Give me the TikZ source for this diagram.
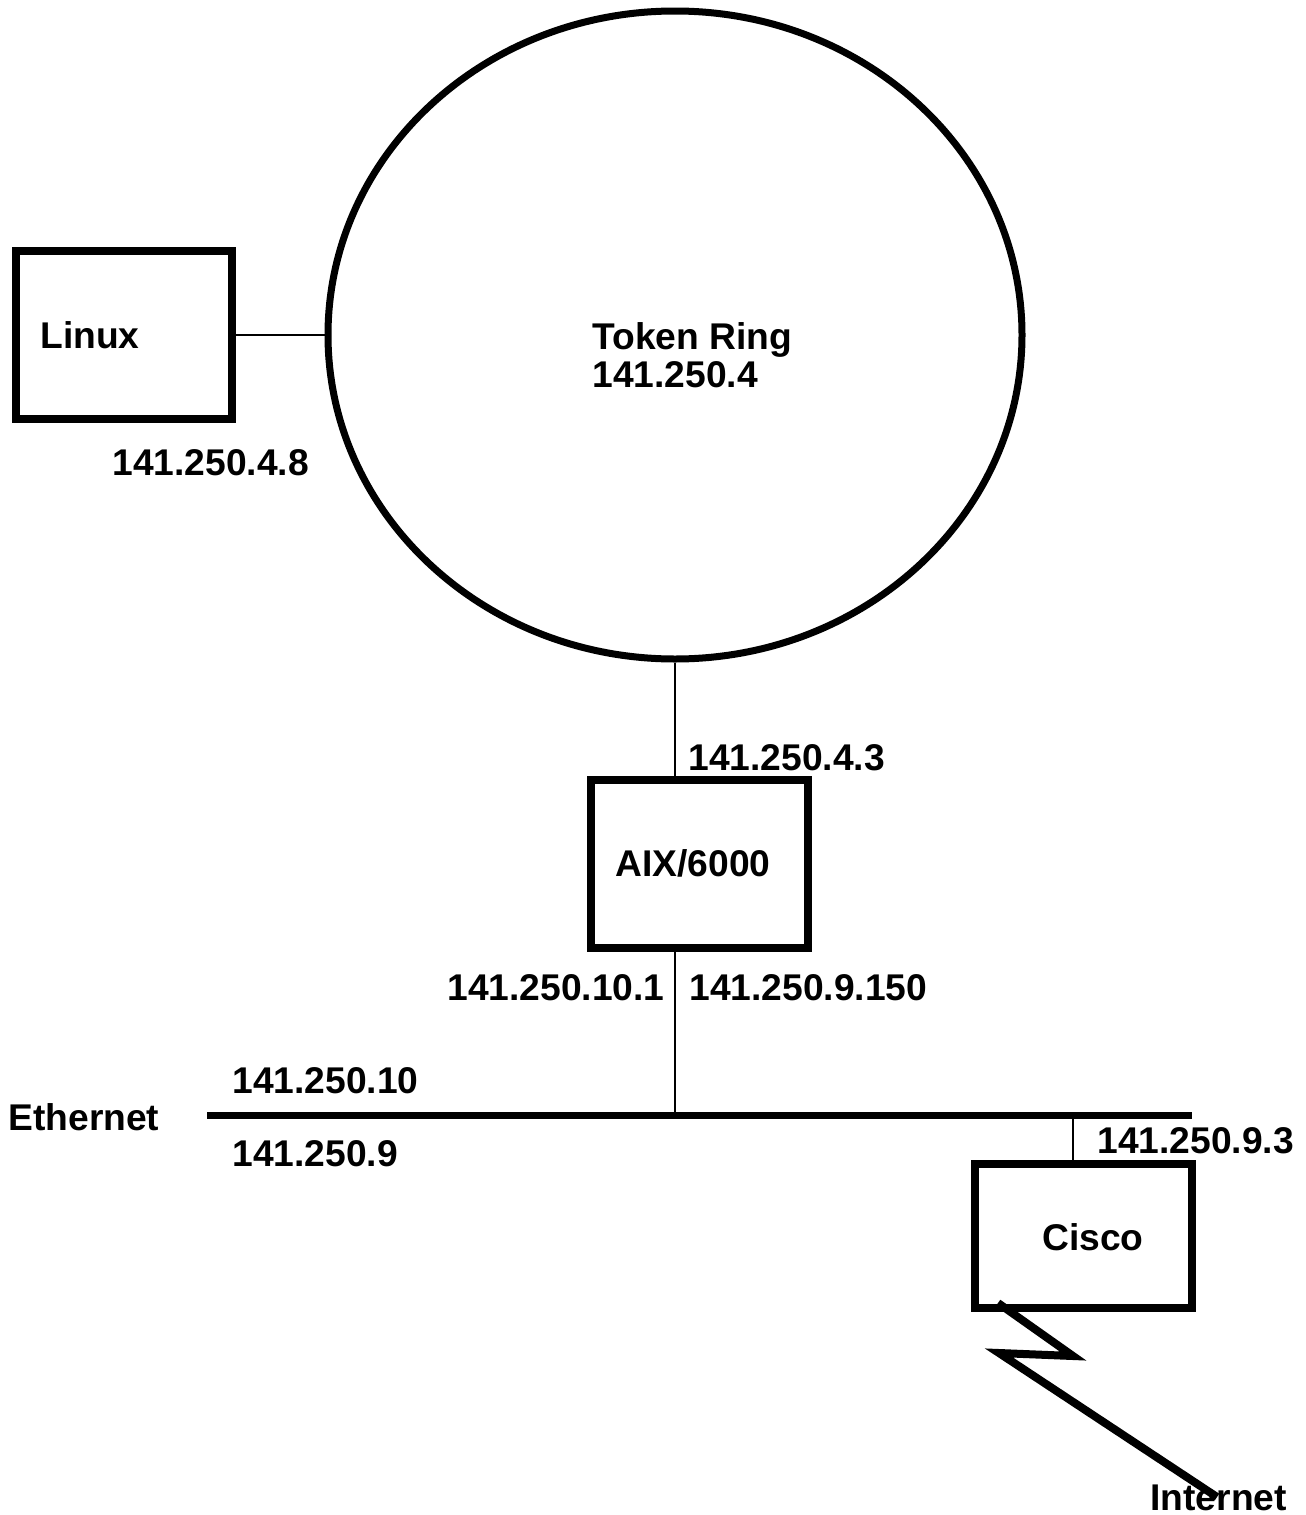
\documentclass[tikz,border=0pt]{standalone}
\usepackage{fontspec}
\setmainfont{Liberation Sans}
\usetikzlibrary{shapes.geometric}
\tikzset{
  lbl/.style={anchor=base west, inner sep=0pt, font=\bfseries\fontsize{18.6}{21}\selectfont},
  hostbox/.style={draw, line width=4pt, rectangle, inner sep=0pt},
  thinlink/.style={line width=1.1pt},
}
\begin{document}
\begin{tikzpicture}[x=0.5pt, y=-0.5pt]
\useasboundingbox[fill=white] (0,0) rectangle (1306,1515);
% ring
\node[draw, ellipse, line width=3.5pt, inner sep=0pt, minimum width=347pt, minimum height=324pt] (ring) at (675,335) {};
% boxes
\node[hostbox, minimum width=108pt, minimum height=84pt] (linux) at (124,335) {};
\node[hostbox, minimum width=108.5pt, minimum height=84pt] (aix) at (699.5,864) {};
\node[hostbox, minimum width=108.5pt, minimum height=72pt] (cisco) at (1083.5,1236) {};
% ethernet
\coordinate (ethL) at (207,1115);
\coordinate (ethR) at (1192,1115);
\draw[line width=3.5pt] (ethL) -- (ethR);
% links
\draw[thinlink] (linux.east) -- (ring.west);
\draw[line width=0.6pt] (ring.south) -- (ring.south |- aix.north);
\draw[line width=1.4pt] (ring.south |- aix.south) -- (ring.south |- ethL);
\coordinate (drop) at (1073,1115);
\draw[thinlink] (drop) -- (drop |- cisco.north);
% lightning
\coordinate (z0) at (998,1303);
\coordinate (z1) at (1073,1356);
\coordinate (z2) at (999,1353);
\coordinate (z3) at (1217,1497);
\draw[line width=4pt, line join=miter] (z0) -- (z1) -- (z2) -- (z3);
% texts
\node[lbl] (tlinux) at (40,348) {Linux};
\node[lbl] (tlinuxip) at (112,475) {141.250.4.8};
\node[lbl] (tring) at (592,349) {Token Ring};
\node[lbl] (tringnet) at (592,387) {141.250.4};
\node[lbl] (taixtop) at (688,770) {141.250.4.3};
\node[lbl] (taix) at (615,876) {AIX/6000};
\node[lbl] (taixl) at (447,1000) {141.250.10.1};
\node[lbl] (taixr) at (689,1000) {141.250.9.150};
\node[lbl] (teth) at (8,1130) {Ethernet};
\node[lbl] (teth10) at (232,1093) {141.250.10};
\node[lbl] (teth9) at (232,1166) {141.250.9};
\node[lbl] (tciscoip) at (1097,1153) {141.250.9.3};
\node[lbl] (tcisco) at (1042,1250) {Cisco};
\node[lbl] (tinet) at (1150,1510) {Internet};
\end{tikzpicture}
\end{document}
